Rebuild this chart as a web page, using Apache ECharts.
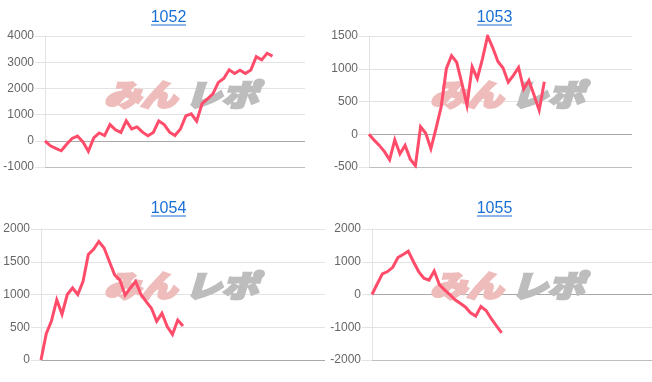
<!DOCTYPE html>
<html>
<head>
<meta charset="utf-8">
<script src="https://cdn.jsdelivr.net/npm/echarts@6/dist/echarts.min.js"></script>
<style>
html,body{margin:0;padding:0;background:#fff;}
#c{width:652px;height:382px;}
</style>
</head>
<body>
<div id="c"></div>
<script>
// ---- data ----
const titles = ['1052', '1053', '1054', '1055'];
const data1052 = [0, -190, -290, -380, -130, 90, 180, -40, -400, 110, 300, 200, 620, 420, 320, 760, 450, 530, 330, 190, 320, 760, 620, 330, 200, 450, 950, 1030, 750, 1420, 1600, 1790, 2230, 2380, 2710, 2570, 2690, 2570, 2700, 3210, 3090, 3340, 3230];
const data1053 = [0, -90, -170, -265, -390, -85, -300, -170, -380, -480, 115, 15, -220, 90, 420, 1000, 1200, 1100, 780, 440, 1030, 850, 1150, 1500, 1320, 1110, 1010, 795, 900, 1020, 690, 820, 600, 365, 800];
const data1054 = [0, 400, 600, 920, 700, 1000, 1100, 1000, 1200, 1610, 1690, 1810, 1710, 1505, 1300, 1220, 990, 1100, 1200, 1000, 890, 790, 590, 715, 510, 390, 610, 520];
const data1055 = [0, 320, 630, 700, 830, 1130, 1220, 1320, 1000, 700, 500, 440, 720, 300, 140, 0, -160, -270, -380, -560, -660, -370, -490, -740, -960, -1170];
const seriesData = [data1052, data1053, data1054, data1055];
const yMin = [-1000, -500, 0, -2000];
const yMax = [4000, 1500, 2000, 2000];
const yStep = [1000, 500, 500, 1000];
const xCount = [49, 52, 55, 55];

// ---- layout / style ----
const grids = [
  {left: 45, top: 36, width: 260, height: 131},
  {left: 369, top: 36, width: 263, height: 131},
  {left: 41, top: 229, width: 284, height: 131},
  {left: 372, top: 229, width: 280, height: 131}
];
const colX = [0, 326, 0, 326];
const rowY = [0, 0, 191, 191];
const LINE = '#ff4c6a';
const GRID = '#e3e3e3';
const ZERO = '#a9a9a9';
const BASE = '#bdbdbd';
const FONT = '"Liberation Sans", Arial, Helvetica, sans-serif';

function splitColors(i) {
  const cols = [];
  for (let v = yMin[i]; v <= yMax[i] + 1e-9; v += yStep[i]) {
    if (v === 0) cols.push(ZERO);
    else if (v === yMin[i]) cols.push(BASE);
    else cols.push(GRID);
  }
  return cols;
}

const xAxes = [], yAxes = [], series = [], graphics = [];
for (let i = 0; i < 4; i++) {
  const cats = Array.from({length: xCount[i]}, (_, k) => String(k + 1));
  xAxes.push({
    type: 'category', gridIndex: i, data: cats, boundaryGap: false,
    axisLine: {show: false}, axisTick: {show: false}, axisLabel: {show: false},
    splitLine: {show: false}
  });
  yAxes.push({
    type: 'value', gridIndex: i, min: yMin[i], max: yMax[i], interval: yStep[i],
    axisLine: {show: true, lineStyle: {color: GRID, width: 1}},
    axisTick: {show: true, length: 10, lineStyle: {color: GRID}},
    axisLabel: {margin: 11, color: '#666', fontSize: 12, fontFamily: FONT,
      formatter: v => String(v)},
    splitLine: {show: true, lineStyle: {color: splitColors(i), width: 1}}
  });
  series.push({
    type: 'line', xAxisIndex: i, yAxisIndex: i, data: seriesData[i],
    symbol: 'none', smooth: false, z: 5,
    lineStyle: {color: LINE, width: 3, join: 'miter'},
    itemStyle: {color: LINE}
  });
  // title (link style)
  const cx = colX[i] + 168.5, ty = rowY[i];
  graphics.push({
    type: 'text', x: cx, y: ty + 17.5, z: 10,
    style: {text: titles[i], fill: '#1a6fd4', fontSize: 16, fontFamily: FONT,
      align: 'center', verticalAlign: 'middle'}
  });
  graphics.push({
    type: 'rect', z: 10,
    shape: {x: cx - 17.5, y: ty + 24.5, width: 35, height: 1},
    style: {fill: '#1a6fd4'}
  });
  // watermark
  graphics.push({
    type: 'text', x: colX[i] + 104, y: rowY[i] + 95, scaleX: 1.22, z: 1,
    style: {text: 'みん', fill: '#efbcbc', stroke: '#efbcbc', lineWidth: 2.5,
      fontSize: 30, fontWeight: 900, fontStyle: 'italic',
      fontFamily: '"Noto Sans CJK JP", sans-serif',
      align: 'left', verticalAlign: 'middle'}
  });
  graphics.push({
    type: 'text', x: colX[i] + 185, y: rowY[i] + 95, scaleX: 1.22, z: 1,
    style: {text: 'レポ', fill: '#bdbdbd', stroke: '#bdbdbd', lineWidth: 2.5,
      fontSize: 30, fontWeight: 900, fontStyle: 'italic',
      fontFamily: '"Noto Sans CJK JP", sans-serif',
      align: 'left', verticalAlign: 'middle'}
  });
}

const chart = echarts.init(document.getElementById('c'), null, {renderer: 'canvas'});
chart.setOption({
  animation: false,
  backgroundColor: '#fff',
  grid: grids,
  xAxis: xAxes,
  yAxis: yAxes,
  series: series,
  graphic: graphics
});
</script>
</body>
</html>
